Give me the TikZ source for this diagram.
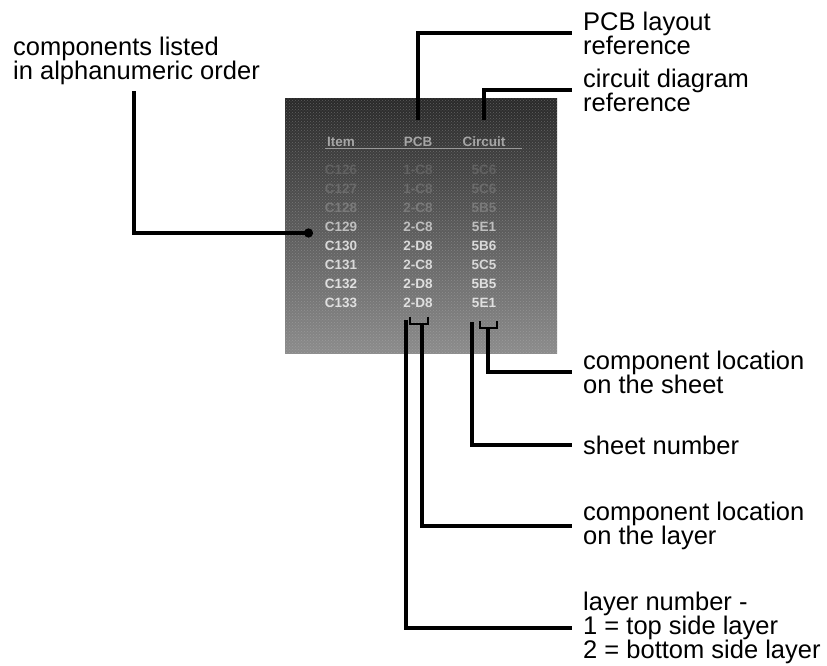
\documentclass[tikz,border=0pt]{standalone}
\usepackage{fontspec}
\setmainfont{Liberation Sans}
\usetikzlibrary{arrows.meta,patterns}
\tikzset{
  lead/.style={line width=3.2pt},
  note/.style={anchor=west, align=left, inner xsep=11pt, inner ysep=0pt,
    font=\fontsize{25.5}{24}\selectfont},
  cell/.style={font=\fontsize{13.5}{13}\selectfont\bfseries, inner sep=0pt},
}
\begin{document}
\begin{tikzpicture}[x=1pt,y=-1pt]
\useasboundingbox (0,0) rectangle (827,666);

\shade[top color=black!84, bottom color=black!45] (285,99) rectangle (557,353);
\fill[pattern=crosshatch dots, pattern color=black!25, opacity=.35] (285,99) rectangle (557,353);

\node[cell, text=black!35] (hA) at (341,142) {Item};
\node[cell, text=black!35] (hB) at (418,142) {PCB};
\node[cell, text=black!35] (hC) at (484,142) {Circuit};
\draw[black!40, line width=1pt] (325,149) -- (522,149);
\foreach \n/\y/\a/\b/\c/\k in {1/170/C126/1-C8/5C6/62,2/189/C127/1-C8/5C6/58,
  3/208/C128/2-C8/5B5/52,4/227/C129/2-C8/5E1/25,5/246/C130/2-D8/5B6/15,
  6/265/C131/2-C8/5C5/15,7/284/C132/2-D8/5B5/12,8/303/C133/2-D8/5E1/12}
{
  \node[cell, text=black!\k] (a\n) at (341,\y) {\a};
  \node[cell, text=black!\k] (b\n) at (418,\y) {\b};
  \node[cell, text=black!\k] (c\n) at (484,\y) {\c};
}

\node[note, inner xsep=0pt] (cmp) at (13,61) {components listed\\in alphanumeric order};
\node[note] (pcb) at (572,33) {PCB layout\\reference};
\node[note] (cct) at (572,90) {circuit diagram\\reference};
\node[note] (sloc) at (572,372) {component location\\on the sheet};
\node[note] (sheet) at (572,445) {sheet number};
\node[note] (lloc) at (572,526) {component location\\on the layer};
\node[note] (layer) at (572,628) {layer number -\\1 = top side layer\\2 = bottom side layer};

\coordinate (cmpref) at (313,233);
\coordinate (lnum) at (406,320);
\coordinate (lpos) at (422,324);
\coordinate (snum) at (472,322);
\coordinate (spos) at (488,328);

\draw[lead, -{Circle[length=9pt]}] ([yshift=-6pt]cmp.south -| 134,0) |- (cmpref);
\draw[lead] ([yshift=17pt]hB.north) |- (pcb.west);
\draw[lead] ([yshift=17pt]hC.north) |- (cct.west);

\draw[line width=2.6pt] (410,317) -- (410,324) -- (428,324) -- (428,317);
\draw[line width=2.6pt] (480,321) -- (480,328) -- (497,328) -- (497,321);
\draw[lead] (lnum) |- (layer.west);
\draw[lead] (lpos) |- (lloc.west);
\draw[lead] (snum) |- (sheet.west);
\draw[lead] (spos) |- (sloc.west);
\end{tikzpicture}
\end{document}
